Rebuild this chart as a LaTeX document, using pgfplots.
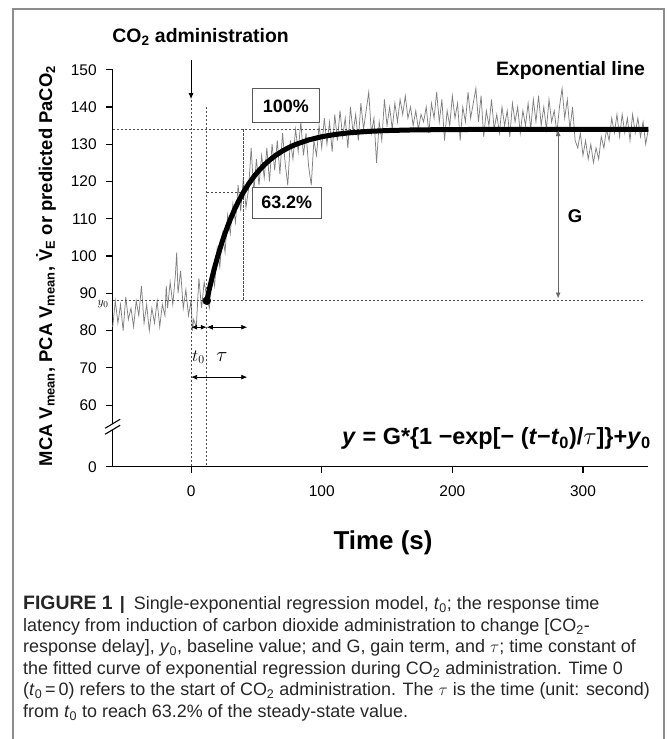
\documentclass[border=0pt]{standalone}
\usepackage{fontspec}
\setmainfont{Liberation Sans}
\usepackage{pgfplots}
\pgfplotsset{compat=1.18}
\usetikzlibrary{arrows.meta}
\newcommand\fs[1]{\fontsize{#1}{#1}\selectfont}
\begin{document}
\begin{tikzpicture}
\path[use as bounding box] (0,0) rectangle (668bp,739bp);
\draw[black!45, line width=1.2bp] (13bp,0) -- (13bp,730bp) -- (664bp,730bp) -- (664bp,0);
\begin{axis}[
  at={(112.7bp,272.3bp)}, anchor=south west,
  scale only axis, width=535.6bp, height=397bp,
  xmin=-60, xmax=350, ymin=43.47, ymax=150,
  axis x line*=bottom, axis y line*=left,
  axis line style={line width=1.3bp, -},
  xtick={0,100,200,300},
  ytick={43.47,60,70,80,90,100,110,120,130,140,150},
  yticklabels={0,60,70,80,90,100,110,120,130,140,150},
  tick align=outside, major tick length=6.5bp,
  tick style={black, line width=1.1bp},
  tick label style={font=\fs{15.5}},
  xticklabel style={yshift=-9bp},
  yticklabel style={xshift=-6bp},
  /pgf/number format/assume math mode=true,
  xlabel={\bfseries Time (s)},
  xlabel style={font=\fs{26}, at={(axis description cs:0.5047,-0.2097)}, anchor=base},
  ylabel={\bfseries MCA V\textsubscript{mean}, PCA V\textsubscript{mean}, \.{V}\textsubscript{E} or predicted PaCO\textsubscript{2}},
  ylabel style={font=\fs{18.5}, at={(axis description cs:-0.1245,0.5055)}, anchor=center},
  clip=false,
]
% measured trace
\addplot[black!50, line width=0.75bp] coordinates {
(-60,81) (-58,88) (-56,82) (-54,87) (-52,80) (-50,89) (-48,83) (-46,86) (-44,81) (-42,88)
(-40,84) (-38,92) (-36,82) (-34,87) (-32,80) (-30,86) (-28,82) (-26,88) (-24,81) (-22,87)
(-20,84) (-19,92) (-18,86) (-16,93) (-14,87) (-12,95) (-11,101) (-10,90) (-8,96) (-6,86)
(-4,91) (-2,84) (0,88) (1,80) (2,83) (4,81) (6,94) (8,86) (10,93) (12,89)
(14,86) (16,96) (18,92) (20,102) (22,97) (24,106) (26,101) (28,111) (30,106) (32,114)
(34,109) (36,119) (38,112) (40,121) (42,113) (44,118) (46,129) (48,117) (50,126) (52,119)
(54,127) (56,121) (58,129) (60,120) (62,130) (64,123) (66,131) (68,122) (70,133) (72,125)
(74,119) (76,131) (78,126) (80,134) (82,128) (84,136) (86,127) (88,133) (90,124) (92,119)
(94,131) (96,127) (98,135) (100,129) (102,137) (104,130) (106,136) (108,128) (110,138) (112,131)
(114,139) (116,132) (118,137) (120,129) (122,140) (124,133) (126,138) (128,131) (130,141) (132,134)
(134,139) (136,144) (138,133) (140,137) (142,125) (144,136) (146,131) (148,142) (150,135) (152,140)
(154,134) (156,141) (158,136) (160,142) (162,138) (164,143) (166,137) (168,140) (170,135) (172,139)
(174,134) (176,138) (178,136) (180,140) (182,133) (184,141) (186,137) (188,144) (190,136) (192,142)
(194,131) (196,139) (198,135) (200,143) (202,137) (204,141) (206,131) (208,140) (210,136) (212,144)
(214,137) (216,141) (218,145) (220,136) (222,143) (224,132) (226,139) (228,135) (230,142) (232,134)
(234,138) (236,133) (238,140) (240,135) (242,139) (244,132) (246,141) (248,136) (250,140) (252,133)
(254,139) (256,135) (258,141) (260,134) (262,142) (264,136) (266,143) (268,135) (270,140) (272,134)
(274,142) (276,136) (278,139) (280,133) (282,140) (284,145) (286,137) (288,142) (290,134) (292,140)
(294,131) (296,129) (298,133) (300,127) (302,131) (304,126) (306,130) (308,125) (310,129) (312,126)
(314,132) (316,129) (318,134) (320,131) (322,137) (324,133) (326,138) (328,132) (330,138) (332,133)
(334,137) (336,131) (338,138) (340,133) (342,137) (344,132) (346,136) (348,130) (350,134)
};
% dashed guide lines
\begin{scope}[black!70, line width=0.65bp, dash pattern=on 2.5bp off 1.5bp]
\draw (axis cs:-60,134) -- (axis cs:281,134);
\draw (axis cs:-60,88) -- (axis cs:346,88);
\draw (axis cs:12,117.1) -- (axis cs:40,117.1);
\draw (axis cs:0,142) -- (axis cs:0,43.47);
\draw (axis cs:12,140) -- (axis cs:12,43.47);
\draw (axis cs:40,134) -- (axis cs:40,88);
\end{scope}
% fitted exponential
\addplot[black, line width=5bp] coordinates {
(12,88) (14,91.17) (16,94.12) (18,96.87) (20,99.43) (22,101.81) (24,104.04) (26,106.10)
(28,108.02) (30,109.81) (33,112.27) (36,114.48) (40,117.08) (44,119.33) (48,121.28)
(52,122.97) (56,124.44) (60,125.72) (65,127.07) (70,128.20) (75,129.15) (80,129.94)
(90,131.16) (100,132.01) (110,132.61) (120,133.03) (135,133.43) (150,133.67)
(170,133.84) (200,133.94) (250,133.99) (350,134.0)
};
\addplot[only marks, mark=*, mark size=4bp, black] coordinates {(12,88)};
% arrows
\draw[-{Latex[length=6bp,width=5bp]}, black, line width=0.8bp] (axis cs:0,152.6) -- (axis cs:0,142.1);
\draw[{Latex[length=6bp,width=5bp]}-{Latex[length=6bp,width=5bp]}, black, line width=0.8bp] (axis cs:0,80.9) -- (axis cs:12,80.9);
\draw[{Latex[length=6bp,width=5bp]}-{Latex[length=6bp,width=5bp]}, black, line width=0.8bp] (axis cs:12,80.9) -- (axis cs:43,80.9);
\draw[{Latex[length=6bp,width=5bp]}-{Latex[length=6bp,width=5bp]}, black, line width=0.8bp] (axis cs:0,67.5) -- (axis cs:43,67.5);
\draw[{Latex[length=6bp,width=5bp]}-{Latex[length=6bp,width=5bp]}, black!60, line width=0.9bp] (axis cs:281,133.8) -- (axis cs:281,88.6);
% boxes
\node[draw=black!65, fill=white, line width=0.9bp, minimum width=67bp, minimum height=34bp, inner sep=0, font=\fs{18}\bfseries] at (axis cs:72.5,140.3) {100\%};
\node[draw=black!65, fill=white, line width=0.9bp, minimum width=68.7bp, minimum height=31bp, inner sep=0, font=\fs{18}\bfseries] at (axis cs:73.2,114.3) {63.2\%};
% labels
\node[anchor=base west, inner sep=0, font=\fs{19.5}\bfseries] at (axis cs:-60.4,157.2) {CO\textsubscript{2} administration};
\node[anchor=base east, inner sep=0, font=\fs{19.5}\bfseries] at (axis cs:347.6,148.4) {Exponential line};
\node[font=\fs{18.5}\bfseries] at (axis cs:294,110.6) {G};
\node[font=\fs{18}] at (axis cs:5.6,72.8) {$t_0$};
\node[font=\fs{22}] at (axis cs:23.7,72.8) {$\tau$};
\node[anchor=east, inner sep=0, font=\fs{12.5}] at ([xshift=-4bp]axis cs:-60,87.0) {$y_0$};
\node[anchor=base west, inner sep=0, font=\fs{23.5}\bfseries] at (axis cs:115.5,49.3)
  {\textit{y} = G*\{1 \textminus exp[\textminus{} (\textit{t}\textminus\textit{t}\textsubscript{0})/$\tau$]\}+\textit{y}\textsubscript{0}};
% axis break
\fill[white] ([xshift=-2bp]axis cs:-60,53.4) rectangle ([xshift=2bp]axis cs:-60,55.0);
\draw[black, line width=1.1bp] ([xshift=-7.5bp,yshift=-4.5bp]axis cs:-60,55.0) -- ([xshift=7.5bp,yshift=4.5bp]axis cs:-60,55.0);
\draw[black, line width=1.1bp] ([xshift=-7.5bp,yshift=-4.5bp]axis cs:-60,53.4) -- ([xshift=7.5bp,yshift=4.5bp]axis cs:-60,53.4);
\end{axis}
% caption
\begin{scope}[every node/.style={anchor=base west, inner sep=0, text=black!85, font=\fs{18}}]
\node at (23bp,129bp) {{\fs{19.5}\bfseries FIGURE 1}\hspace{7bp}{\bfseries|}\hspace{9bp}Single-exponential regression model, \textit{t}\textsubscript{0}; the response time};
\node at (23bp,107.5bp) {latency from induction of carbon dioxide administration to change [CO\textsubscript{2}-};
\node at (23bp,86bp) {response delay], \textit{y}\textsubscript{0}, baseline value; and G, gain term, and $\tau$; time constant of};
\node at (23bp,64.5bp) {the fitted curve of exponential regression during CO\textsubscript{2} administration. Time 0};
\node at (23bp,43bp) {(\textit{t}\textsubscript{0}\,=\,0) refers to the start of CO\textsubscript{2} administration. The $\tau$ is the time (unit: second)};
\node at (23bp,21.5bp) {from \textit{t}\textsubscript{0} to reach 63.2\% of the steady-state value.};
\end{scope}
\end{tikzpicture}
\end{document}
